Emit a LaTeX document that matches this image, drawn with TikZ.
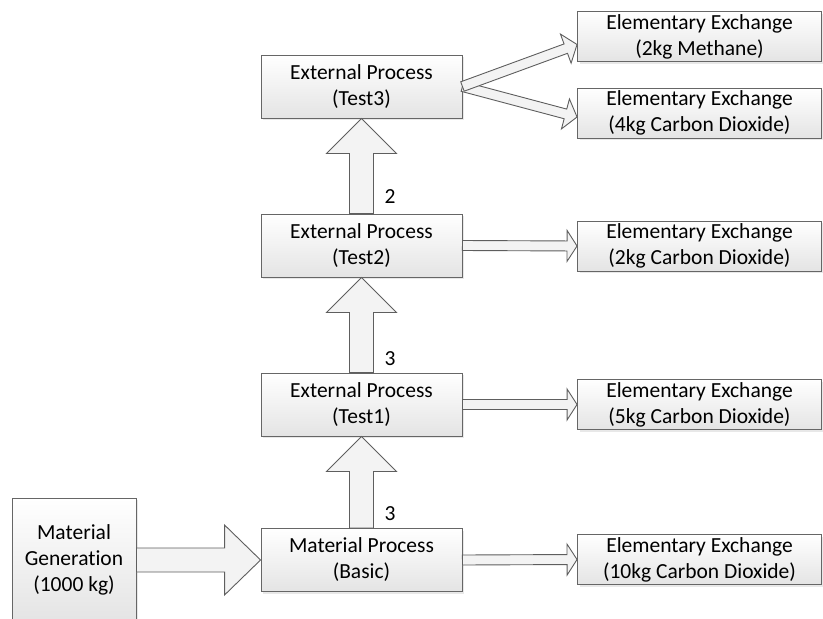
\documentclass[tikz,border=0pt]{standalone}
\usepackage{fontspec}
\setmainfont[Ligatures=NoCommon]{Carlito}
\usetikzlibrary{calc,shadows}
\definecolor{boxline}{HTML}{666666}
\definecolor{boxbot}{HTML}{E4E4E4}
\definecolor{arrline}{HTML}{5E5E5E}
\definecolor{arrfill}{HTML}{F3F3F3}
\begin{document}
\begin{tikzpicture}[x=1pt,y=-1pt,
  box/.style={draw=boxline, line width=0.9pt, top color=white, bottom color=boxbot,
    drop shadow={shadow xshift=2pt, shadow yshift=-2pt, opacity=0.18},
    align=center, inner sep=0pt, font=\fontsize{21.5}{26}\selectfont},
  proc/.style={box, minimum width=201pt, minimum height=63pt},
  elem/.style={box, minimum width=244pt, minimum height=50pt},
  lbl/.style={inner sep=0pt, font=\fontsize{21.5}{26}\selectfont},
  barrow/.style n args={3}{draw=arrline, line width=0.9pt, fill=arrfill, line join=miter,
    to path={let \p1=(\tikztostart), \p2=(\tikztotarget),
      \n1={atan2(\y2-\y1,\x2-\x1)}, \n2={veclen(\x2-\x1,\y2-\y1)} in
      ($(\p1)+(\n1+90:{#1/2})$)
      -- ($(\p1)+(\n1:{\n2*1pt-#3})+(\n1+90:{#1/2})$)
      -- ($(\p1)+(\n1:{\n2*1pt-#3})+(\n1+90:{#2/2})$)
      -- (\p2)
      -- ($(\p1)+(\n1:{\n2*1pt-#3})+(\n1-90:{#2/2})$)
      -- ($(\p1)+(\n1:{\n2*1pt-#3})+(\n1-90:{#1/2})$)
      -- ($(\p1)+(\n1-90:{#1/2})$) -- cycle}}
]
\useasboundingbox (0,0) rectangle (823,619);

% process boxes
\node[proc] (test3) at (361.5,86.5) {External Process\\(Test3)};
\node[proc] (test2) at (361.5,245.5) {External Process\\(Test2)};
\node[proc] (test1) at (361.5,404.5) {External Process\\(Test1)};
\node[proc] (basic) at (361.5,560) {Material Process\\(Basic)};
\node[box, minimum width=124pt, minimum height=124pt] (gen) at (74,560) {Material\\Generation\\(1000 kg)};

% elementary exchanges
\node[elem] (meth) at (699.5,36.5) {Elementary Exchange\\(2kg Methane)};
\node[elem] (co4) at (699.5,113) {Elementary Exchange\\(4kg Carbon Dioxide)};
\node[elem] (co2) at (699.5,246) {Elementary Exchange\\(2kg Carbon Dioxide)};
\node[elem] (co5) at (699.5,404.5) {Elementary Exchange\\(5kg Carbon Dioxide)};
\node[elem] (co10) at (699.5,559.5) {Elementary Exchange\\(10kg Carbon Dioxide)};

% big arrows
\draw[barrow={24pt}{70pt}{36pt}] (gen.east) to (basic.west);
\draw[barrow={24pt}{70pt}{35pt}] (basic.north) to (test1.south);
\draw[barrow={24pt}{70pt}{35pt}] (test1.north) to (test2.south);
\draw[barrow={24pt}{70pt}{35pt}] (test2.north) to (test3.south);

% small arrows
\draw[barrow={10pt}{31pt}{10pt}] (basic.east) to (co10.west);
\draw[barrow={10pt}{31pt}{10pt}] (test1.east) to (co5.west);
\draw[barrow={10pt}{31pt}{10pt}] (test2.east) to (co2.west);
\coordinate (mtip) at ($(meth.west)+(0,8)$);
\coordinate (ctip) at ($(co4.west)+(0,4)$);
\draw[barrow={10pt}{31pt}{12pt}] (test3.east) to (ctip);
\draw[barrow={10pt}{31pt}{12pt}] (test3.east) to (mtip);

% labels
\node[lbl] (l3a) at (390,514) {3};
\node[lbl] (l3b) at (390,359) {3};
\node[lbl] (l2) at (390,197) {2};
\end{tikzpicture}
\end{document}
